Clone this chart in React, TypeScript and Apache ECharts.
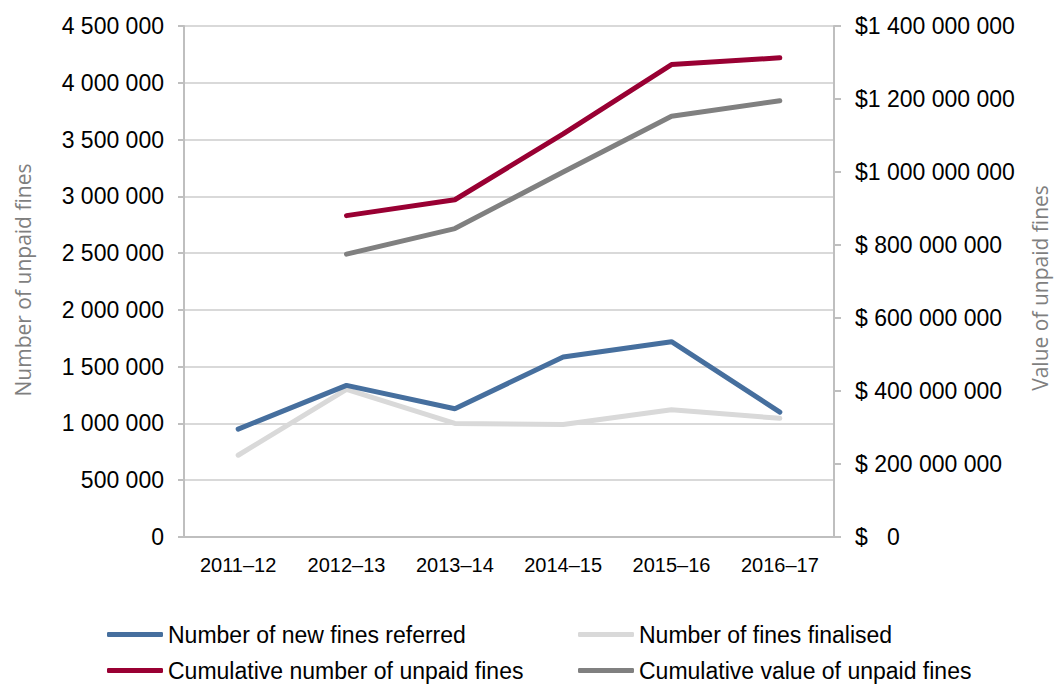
import React, { useEffect, useRef } from "react";
import * as echarts from "echarts";

const categories = ["2011–12", "2012–13", "2013–14", "2014–15", "2015–16", "2016–17"];
const newFinesReferred = [950000, 1335000, 1130000, 1585000, 1720000, 1100000];
const finesFinalised = [720000, 1300000, 1000000, 990000, 1120000, 1045000];
const cumulativeNumber = [null, 2830000, 2970000, 3550000, 4160000, 4220000];
const cumulativeValue = [null, 775000000, 845000000, 1000000000, 1153000000, 1195000000];

const seriesNames = [
  "Number of new fines referred",
  "Number of fines finalised",
  "Cumulative number of unpaid fines",
  "Cumulative value of unpaid fines",
];
const colors = ["#466F9E", "#D9D9D9", "#990033", "#808080"];

const FONT = "'Liberation Sans', Arial, Helvetica, sans-serif";
const TITLE_FONT = "'Open Sans', 'Noto Sans', sans-serif";

const group = (n: number) => String(n).replace(/\B(?=(\d{3})+(?!\d))/g, " ");

export default function App() {
  const ref = useRef<HTMLDivElement>(null);
  useEffect(() => {
    if (!ref.current) return;
    const chart = echarts.init(ref.current, null, { renderer: "svg" });
    const axisLine = { show: true, lineStyle: { color: "#BFBFBF", width: 2 } };
    const legendPos = [
      { name: seriesNames[0], left: 107, top: 623 },
      { name: seriesNames[2], left: 107, top: 659 },
      { name: seriesNames[1], left: 578, top: 623 },
      { name: seriesNames[3], left: 578, top: 659 },
    ];
    chart.setOption({
      animation: false,
      backgroundColor: "#FFFFFF",
      grid: { left: 184, right: 220, top: 26, bottom: 147, containLabel: false },
      xAxis: {
        type: "category",
        data: categories,
        boundaryGap: true,
        axisLine,
        axisTick: { show: false },
        axisLabel: { color: "#000", fontSize: 20, fontFamily: FONT, margin: 18 },
        splitLine: { show: false },
      },
      yAxis: [
        {
          type: "value",
          min: 0,
          max: 4500000,
          interval: 500000,
          position: "left",
          axisLine,
          axisTick: { show: true, length: 6, lineStyle: { color: "#BFBFBF", width: 2 } },
          axisLabel: {
            color: "#000",
            fontSize: 23,
            fontFamily: FONT,
            margin: 20,
            formatter: (v: number) => group(v),
          },
          splitLine: { show: true, lineStyle: { color: "#D9D9D9", width: 2 } },
        },
        {
          type: "value",
          min: 0,
          max: 1400000000,
          interval: 200000000,
          position: "right",
          axisLine,
          axisTick: { show: true, length: 7, lineStyle: { color: "#BFBFBF", width: 2 } },
          axisLabel: {
            color: "#000",
            fontSize: 23,
            fontFamily: FONT,
            margin: 21,
            formatter: (v: number) =>
              v === 0 ? "$\u00a0\u00a0\u00a00" : v >= 1e9 ? "$" + group(v) : "$ " + group(v),
          },
          splitLine: { show: false },
        },
      ],
      legend: legendPos.map((p) => ({
        data: [p.name],
        orient: "horizontal",
        left: p.left,
        top: p.top,
        padding: 0,
        itemWidth: 56,
        itemHeight: 5,
        icon: "roundRect",
        textStyle: { color: "#000", fontSize: 23, fontFamily: FONT },
      })),
      graphic: [
        {
          type: "text",
          x: 23,
          y: 280,
          rotation: Math.PI / 2,
          style: {
            text: "Number of unpaid fines",
            fill: "#7F7F7F",
            font: `21px ${TITLE_FONT}`,
            textAlign: "center",
            textVerticalAlign: "middle",
          },
        },
        {
          type: "text",
          x: 1040,
          y: 288,
          rotation: Math.PI / 2,
          style: {
            text: "Value of unpaid fines",
            fill: "#7F7F7F",
            font: `21px ${TITLE_FONT}`,
            textAlign: "center",
            textVerticalAlign: "middle",
          },
        },
      ],
      series: [
        {
          name: seriesNames[1],
          type: "line",
          yAxisIndex: 0,
          data: finesFinalised,
          symbol: "none",
          color: colors[1],
          lineStyle: { width: 5, color: colors[1], cap: "round" },
          z: 2,
        },
        {
          name: seriesNames[0],
          type: "line",
          yAxisIndex: 0,
          data: newFinesReferred,
          symbol: "none",
          color: colors[0],
          lineStyle: { width: 5, color: colors[0], cap: "round" },
          z: 3,
        },
        {
          name: seriesNames[2],
          type: "line",
          yAxisIndex: 0,
          data: cumulativeNumber,
          symbol: "none",
          color: colors[2],
          lineStyle: { width: 5, color: colors[2], cap: "round" },
          z: 4,
        },
        {
          name: seriesNames[3],
          type: "line",
          yAxisIndex: 1,
          data: cumulativeValue,
          symbol: "none",
          color: colors[3],
          lineStyle: { width: 5, color: colors[3], cap: "round" },
          z: 4,
        },
      ],
    });
    return () => chart.dispose();
  }, []);
  return (
    <div
      ref={ref}
      style={{ position: "fixed", left: 0, top: 0, width: 1054, height: 684, background: "#fff" }}
    />
  );
}
